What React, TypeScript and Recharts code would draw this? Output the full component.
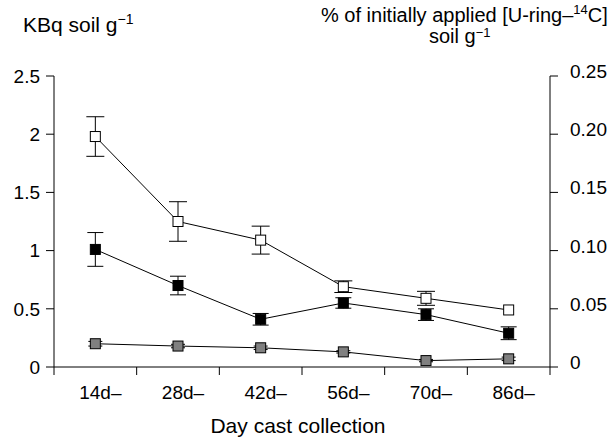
import { LineChart, Line, XAxis, YAxis, ErrorBar } from 'recharts';

const categories = ['14d', '28d', '42d', '56d', '70d', '86d'];
const openValues = [1.98, 1.25, 1.09, 0.69, 0.59, 0.49];
const openErrors = [0.17, 0.17, 0.12, 0.05, 0.06, 0];
const filledValues = [1.01, 0.7, 0.41, 0.55, 0.45, 0.29];
const filledErrors = [0.145, 0.08, 0.05, 0.045, 0.05, 0.055];
const greyValues = [0.2, 0.18, 0.165, 0.13, 0.055, 0.07];
const greyErrors = [0.02, 0.015, 0.015, 0.01, 0.01, 0.015];
const leftTicks = [0, 0.5, 1, 1.5, 2, 2.5];
const rightTicks = [0, 0.05, 0.1, 0.15, 0.2, 0.25];
const xTicks = [0, 0.5, 1, 1.5, 2, 2.5, 3, 3.5, 4, 4.5, 5, 5.5, 6];

const data = categories.map((c, i) => ({
  x: i + 0.5,
  name: c,
  open: openValues[i],
  openErr: openErrors[i],
  filled: filledValues[i],
  filledErr: filledErrors[i],
  grey: greyValues[i],
  greyErr: greyErrors[i],
}));

const squareDot = (fill: string) => (props: any) => {
  const { cx, cy, index } = props;
  return (
    <rect key={`sq-${fill}-${index}`} x={cx - 5} y={cy - 5} width={10} height={10} fill={fill} stroke="#000" strokeWidth={1} />
  );
};

const XTick = ({ x, y, payload }: any) => {
  const v = payload.value;
  if (Number.isInteger(v)) {
    return <line x1={x} y1={y} x2={x} y2={y + 8} stroke="#000" strokeWidth={1} />;
  }
  return (
    <text x={x} y={y + 32} dx={5} textAnchor="middle" fontSize={19} fill="#000">
      {categories[Math.floor(v)]}–
    </text>
  );
};

const RightTick = ({ x, y, payload }: any) => {
  const v = payload.value;
  return (
    <text x={x} y={y} dy={2} textAnchor="start" fontSize={19} fill="#000">
      {v === 0 ? '0' : v.toFixed(2)}
    </text>
  );
};

export default function App() {
  return (
    <div style={{ position: 'relative', width: 613, height: 438, fontFamily: '"Liberation Sans", Arial, sans-serif', background: '#fff' }}>
      <style>{'body{margin:0}'}</style>
      <LineChart width={613} height={438} data={data} margin={{ top: 76, right: 0, left: 0, bottom: 0 }}>
        <XAxis
          dataKey="x"
          type="number"
          domain={[0, 6]}
          ticks={xTicks}
          interval={0}
          tickSize={0}
          tickMargin={0}
          tickLine={false}
          tick={<XTick />}
          height={71}
          stroke="#000"
          axisLine={{ stroke: '#000' }}
        />
        <YAxis
          yAxisId="left"
          domain={[0, 2.5]}
          ticks={leftTicks}
          interval={0}
          width={54}
          tickSize={8}
          tickMargin={6}
          stroke="#000"
          tick={{ fill: '#000', fontSize: 19 }}
        />
        <YAxis
          yAxisId="right"
          orientation="right"
          type="number"
          domain={[0, 0.25]}
          ticks={rightTicks}
          interval={0}
          width={63}
          tickSize={8}
          tickMargin={12}
          stroke="#000"
          tick={<RightTick />}
          allowDataOverflow
        />
        <Line yAxisId="right" dataKey="none" stroke="none" dot={false} activeDot={false} legendType="none" isAnimationActive={false} />
        <Line yAxisId="left" dataKey="grey" stroke="#000" strokeWidth={1} dot={squareDot('#808080')} isAnimationActive={false}>
          <ErrorBar dataKey="greyErr" direction="y" width={7} stroke="#000" strokeWidth={1} />
        </Line>
        <Line yAxisId="left" dataKey="filled" stroke="#000" strokeWidth={1} dot={squareDot('#000')} isAnimationActive={false}>
          <ErrorBar dataKey="filledErr" direction="y" width={8} stroke="#000" strokeWidth={1} />
        </Line>
        <Line yAxisId="left" dataKey="open" stroke="#000" strokeWidth={1} dot={squareDot('#fff')} isAnimationActive={false}>
          <ErrorBar dataKey="openErr" direction="y" width={9} stroke="#000" strokeWidth={1} />
        </Line>
      </LineChart>
      <svg width={613} height={438} style={{ position: 'absolute', left: 0, top: 0, pointerEvents: 'none' }}>
        <text x={23} y={32} fontSize={21} fill="#000">
          KBq soil g<tspan dy={-8} fontSize={14}>−1</tspan>
        </text>
        <text x={321} y={22} fontSize={20} fill="#000">
          % of initially applied [U-ring–<tspan dy={-8} fontSize={13}>14</tspan>
          <tspan dy={8}>C]</tspan>
        </text>
        <text x={429} y={43} fontSize={20} fill="#000">
          soil g<tspan dy={-6} fontSize={13}>−1</tspan>
        </text>
        <text x={298} y={433} fontSize={21} textAnchor="middle" fill="#000">
          Day cast collection
        </text>
      </svg>
    </div>
  );
}
